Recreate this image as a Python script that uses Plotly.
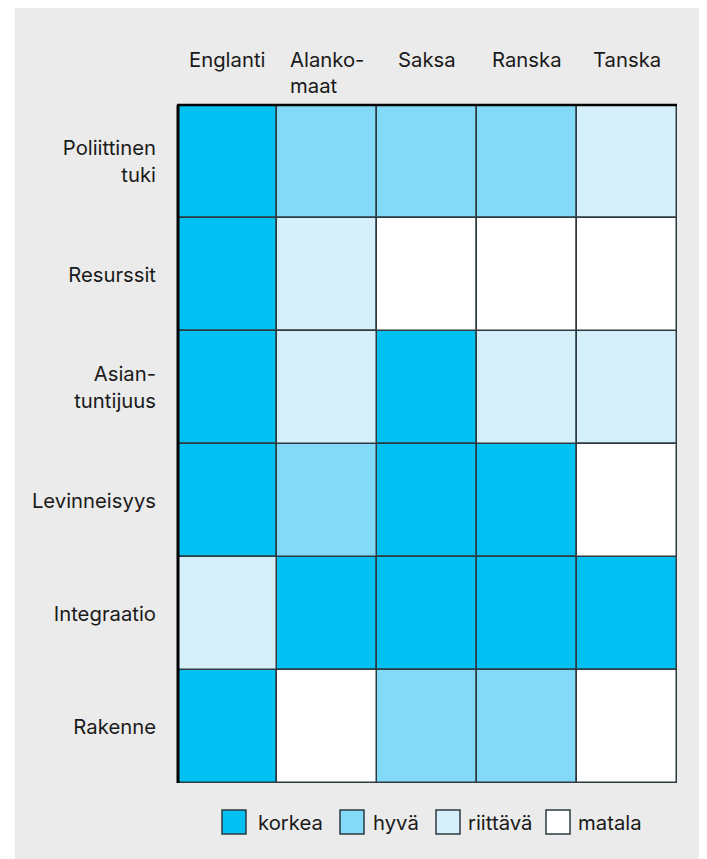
import plotly.graph_objects as go

# ---- data ----
columns = ["Englanti", "Alanko-<br>maat", "Saksa", "Ranska", "Tanska"]
rows = ["Poliittinen<br>tuki", "Resurssit", "Asian-<br>tuntijuus", "Levinneisyys", "Integraatio", "Rakenne"]
levels = ["korkea", "hyvä", "riittävä", "matala"]

poliittinen_tuki = ["korkea", "hyvä", "hyvä", "hyvä", "riittävä"]
resurssit = ["korkea", "riittävä", "matala", "matala", "matala"]
asiantuntijuus = ["korkea", "riittävä", "korkea", "riittävä", "riittävä"]
levinneisyys = ["korkea", "hyvä", "korkea", "korkea", "matala"]
integraatio = ["riittävä", "korkea", "korkea", "korkea", "korkea"]
rakenne = ["korkea", "matala", "hyvä", "hyvä", "matala"]
ratings = [poliittinen_tuki, resurssit, asiantuntijuus, levinneisyys, integraatio, rakenne]

level_colors = {"korkea": "#00C1F1", "hyvä": "#82D9F8", "riittävä": "#D5F0FB", "matala": "#FFFFFF"}

FONT = "Inter"
FS = 20.3
TXT = "#1a1a1a"
BG = "#EBEBEB"
BORDER = "#2E3A3F"

OFF = 8  # default page body margin
W, H = 707 - OFF, 859 - OFF
L, T = 177 - OFF, 105 - OFF
R, B = W - (677 - OFF), H - (783 - OFF)
PW, PH = W - L - R, H - T - B


def px(x):  # page pixel -> paper x
    return (x - OFF - L) / PW


def py(y):  # page pixel -> paper y
    return (H - B - (y - OFF)) / PH


n_rows = len(rows)
fig = go.Figure()
for lev in levels:
    xs, bases = [], []
    for i, row in enumerate(ratings):
        for j, v in enumerate(row):
            if v == lev:
                xs.append(j)
                bases.append(n_rows - 1 - i)
    fig.add_trace(go.Bar(
        x=xs, y=[1] * len(xs), base=bases, width=1, name=lev,
        marker=dict(color=level_colors[lev], line=dict(color=BORDER, width=1.5)),
        showlegend=False, hoverinfo="skip",
    ))

# column headers
for j, c in enumerate(columns):
    fig.add_annotation(x=j, y=py(45), xref="x", yref="paper", text=c, showarrow=False,
                       xanchor="center", yanchor="top", align="left",
                       font=dict(family=FONT, size=FS, color=TXT))

# background panel
shapes = [dict(type="rect", xref="paper", yref="paper", x0=px(15), x1=px(720), y0=py(3), y1=py(870),
               fillcolor=BG, line=dict(width=0), layer="below")]
# thick outer edges
shapes.append(dict(type="line", xref="paper", yref="paper", x0=px(178), x1=px(178), y0=0, y1=1,
                   line=dict(color="#000000", width=3), layer="above"))
shapes.append(dict(type="line", xref="paper", yref="paper", x0=px(177), x1=1, y0=1, y1=1,
                   line=dict(color="#000000", width=2.5), layer="above"))

# legend
legend_items = [("korkea", 222, 256), ("hyvä", 340, 371), ("riittävä", 436, 466), ("matala", 546, 576)]
for lev, sx, tx in legend_items:
    shapes.append(dict(type="rect", xref="paper", yref="paper", x0=px(sx), x1=px(sx + 24),
                       y0=py(834), y1=py(810), fillcolor=level_colors[lev],
                       line=dict(color=BORDER, width=1.5), layer="above"))
    fig.add_annotation(x=px(tx), y=py(822), xref="paper", yref="paper", text=lev, showarrow=False,
                       xanchor="left", yanchor="middle", font=dict(family=FONT, size=FS, color=TXT))

fig.update_layout(
    width=W, height=H,
    margin=dict(l=L, r=R, t=T, b=B, pad=0),
    paper_bgcolor="#FFFFFF", plot_bgcolor=BG,
    barmode="overlay", bargap=0,
    shapes=shapes,
    font=dict(family=FONT, size=FS, color=TXT),
)
fig.update_xaxes(range=[-0.5, len(columns) - 0.5], showticklabels=False, showgrid=False,
                 zeroline=False, showline=False, fixedrange=True)
fig.update_yaxes(range=[0, n_rows], tickmode="array",
                 tickvals=[n_rows - 0.5 - i for i in range(n_rows)], ticktext=rows,
                 showgrid=False, zeroline=False, showline=False, ticks="",
                 ticklabelstandoff=20, tickfont=dict(family=FONT, size=FS, color=TXT), fixedrange=True)

fig.write_html("out.html")
